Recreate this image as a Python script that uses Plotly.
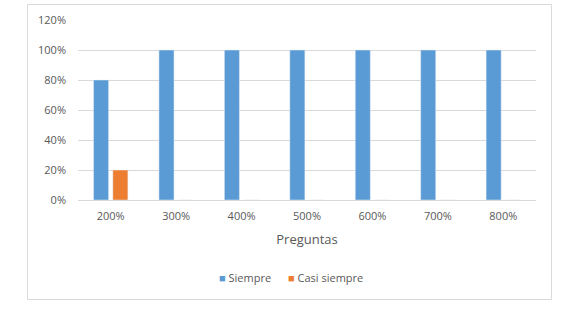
import plotly.graph_objects as go

categories = ["200%", "300%", "400%", "500%", "600%", "700%", "800%"]
siempre = [0.8, 1.0, 1.0, 1.0, 1.0, 1.0, 1.0]
casi_siempre = [0.2, 0, 0, 0, 0, 0, 0]
y_ticks = [0, 0.2, 0.4, 0.6, 0.8, 1.0, 1.2]
y_labels = ["0%", "20%", "40%", "60%", "80%", "100%", "120%"]

W, H = 565, 315
L, T = 78, 20
pw, ph = 458, 180
R, B = W - L - pw, H - T - ph

def px(x):
    return (x - L) / pw

def py(y):
    return (T + ph - y) / ph

fig = go.Figure()
fig.add_trace(go.Bar(x=categories, y=siempre, name="Siempre", marker_color="#5b9bd5"))
fig.add_trace(go.Bar(x=categories, y=casi_siempre, name="Casi siempre", marker_color="#ed7d31"))

fig.update_layout(
    width=W, height=H, autosize=False,
    margin=dict(l=L, r=R, t=T, b=B, pad=0, autoexpand=False),
    paper_bgcolor="white", plot_bgcolor="white",
    barmode="group", bargap=0.41, bargroupgap=0.22,
    font=dict(family="Open Sans, Liberation Sans, sans-serif", color="#595959", size=11),
    showlegend=False,
    shapes=[dict(type="rect", xref="paper", yref="paper",
                 x0=px(27.5), x1=px(551.5), y0=py(299.5), y1=py(4.5),
                 line=dict(color="#d9d9d9", width=1), fillcolor="rgba(0,0,0,0)", layer="below")],
    annotations=[
        dict(xref="paper", yref="paper", x=px(217), y=py(277), xanchor="left", yanchor="middle",
             showarrow=False, font=dict(size=11, color="#595959"),
             text='<span style="color:#5b9bd5">■</span> Siempre'),
        dict(xref="paper", yref="paper", x=px(286), y=py(277), xanchor="left", yanchor="middle",
             showarrow=False, font=dict(size=11, color="#595959"),
             text='<span style="color:#ed7d31">■</span> Casi siempre'),
    ],
)
fig.update_xaxes(title=dict(text="Preguntas", font=dict(size=13, color="#595959"), standoff=12),
                 showgrid=False, showline=True, linecolor="#d9d9d9", ticks="", automargin=False,
                 tickfont=dict(size=11, color="#595959"), ticklabelstandoff=6)
fig.update_yaxes(range=[0, 1.2], tickvals=y_ticks, ticktext=y_labels, automargin=False,
                 showgrid=True, gridcolor="#d9d9d9", zeroline=False, showline=False,
                 tickfont=dict(size=11, color="#595959"), ticklabelstandoff=11)

fig.write_html("out.html", config={"displayModeBar": False},
               post_script="document.body.style.margin='0';")
